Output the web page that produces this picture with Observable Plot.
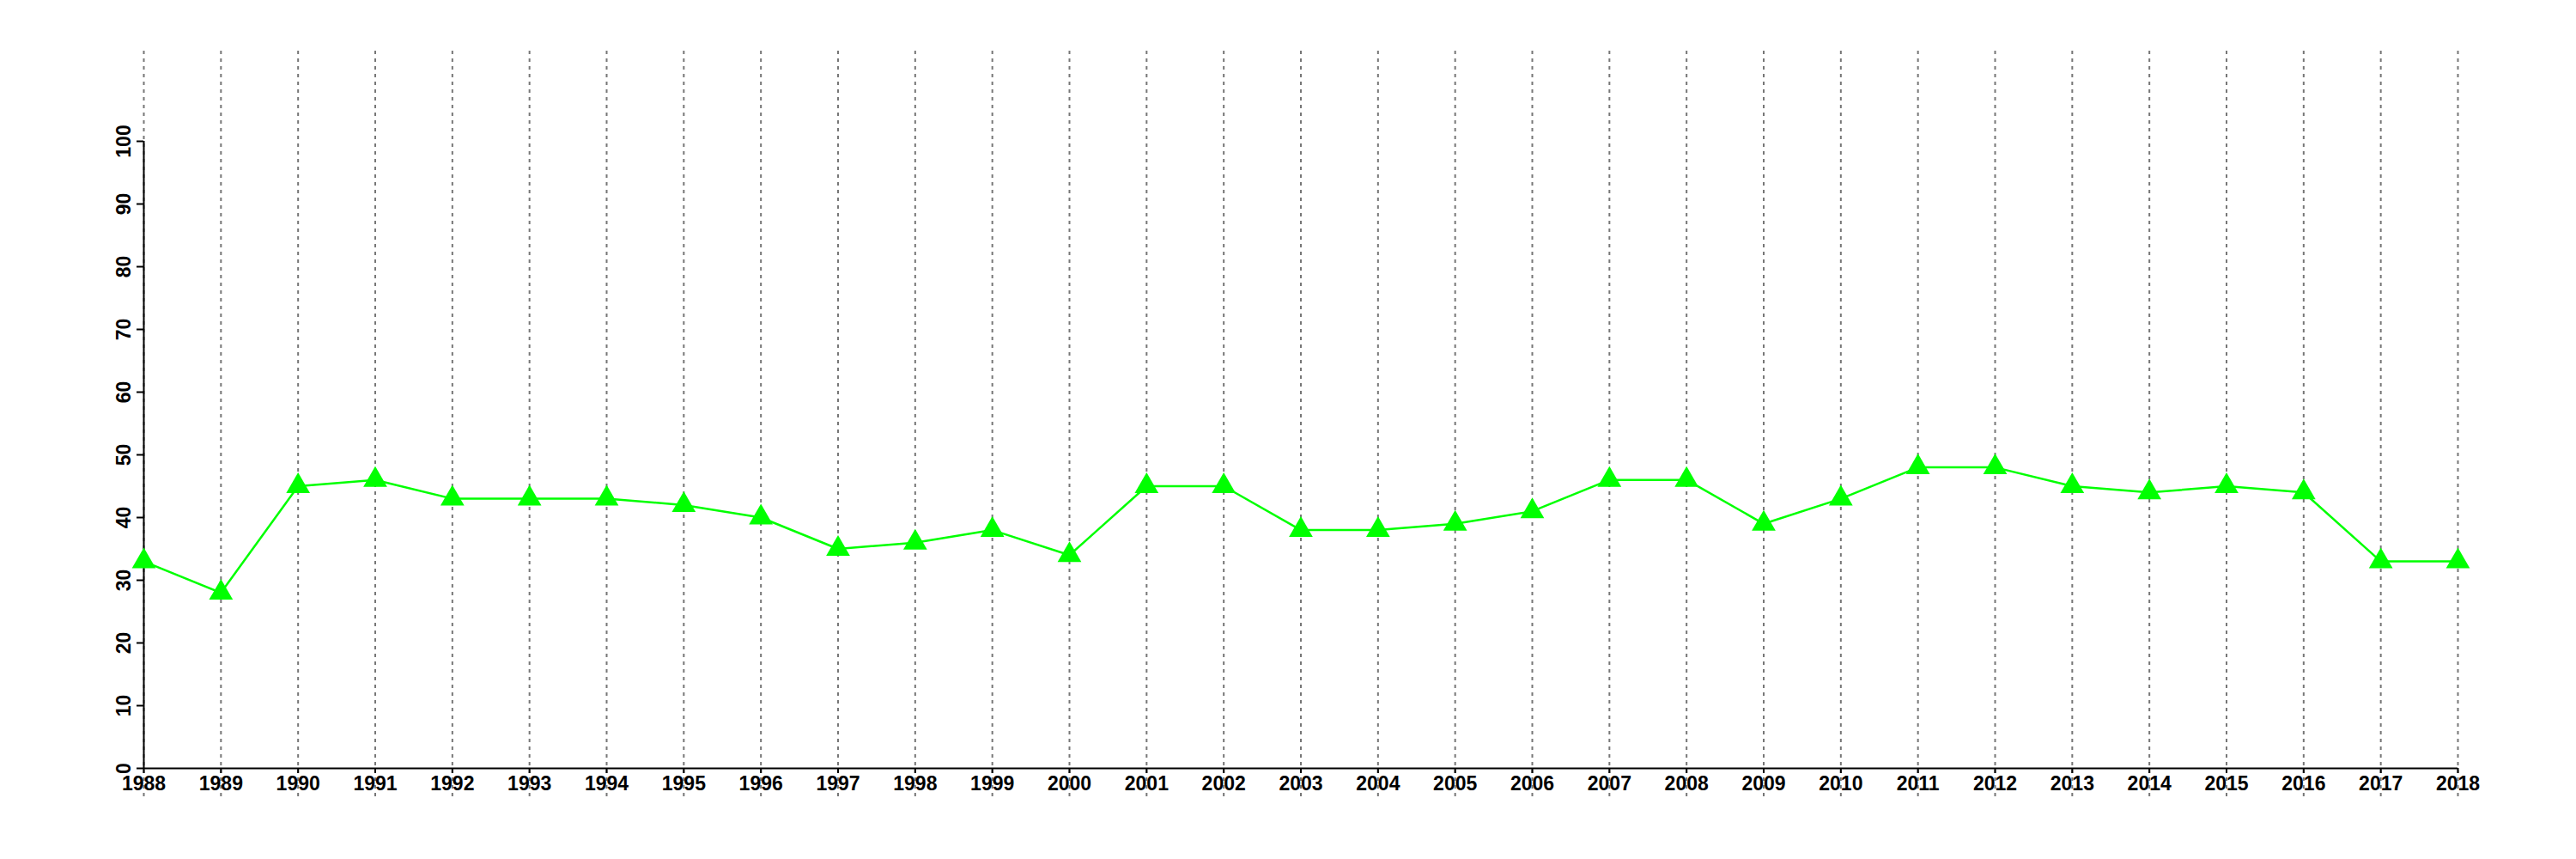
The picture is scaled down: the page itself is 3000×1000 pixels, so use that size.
<!DOCTYPE html>
<html>
<head>
<meta charset="utf-8">
<script src="https://cdn.jsdelivr.net/npm/d3@7"></script>
<script src="https://cdn.jsdelivr.net/npm/@observablehq/plot@0.6"></script>
<style>
  html, body { margin: 0; padding: 0; background: #fff; }
</style>
</head>
<body>
<div id="chart"></div>
<script>
const years = [1988, 1989, 1990, 1991, 1992, 1993, 1994, 1995, 1996, 1997, 1998, 1999, 2000, 2001, 2002, 2003, 2004, 2005, 2006, 2007, 2008, 2009, 2010, 2011, 2012, 2013, 2014, 2015, 2016, 2017, 2018];
const values = [33, 28, 45, 46, 43, 43, 43, 42, 40, 35, 36, 38, 34, 45, 45, 38, 38, 39, 41, 46, 46, 39, 43, 48, 48, 45, 44, 45, 44, 33, 33];
const yTicks = [0, 10, 20, 30, 40, 50, 60, 70, 80, 90, 100];

const data = years.map((year, i) => ({year, value: values[i]}));

const chart = Plot.plot({
  width: 3000,
  height: 1000,
  marginLeft: 167,
  marginRight: 138,
  marginTop: 164,
  marginBottom: 106,
  style: {
    fontFamily: "'Liberation Sans', Arial, Helvetica, sans-serif",
    fontSize: "23px",
    fontWeight: "bold",
    background: "#fff",
    color: "#000"
  },
  x: {type: "linear", domain: [years[0], years[years.length - 1]]},
  y: {domain: [yTicks[0], yTicks[yTicks.length - 1]]},
  marks: [
    Plot.ruleX(years, {stroke: "#777", strokeWidth: 2, strokeDasharray: "4,5", insetTop: -105, insetBottom: -33}),
    Plot.axisX({ticks: years, tickFormat: d => String(d), tickSize: 6, tickPadding: 3, label: null, strokeWidth: 2, fill: "#000"}),
    Plot.axisY({ticks: yTicks, tickSize: 8, tickPadding: 8, tickRotate: -90, label: null, strokeWidth: 2, fill: "#000"}),
    Plot.ruleY([yTicks[0]], {stroke: "#000", strokeWidth: 2}),
    Plot.ruleX([years[0]], {stroke: "#000", strokeWidth: 2}),
    Plot.line(data, {x: "year", y: "value", stroke: "#00ff00", strokeWidth: 2.5}),
    Plot.dot(data, {x: "year", y: "value", symbol: "triangle", r: 10.3, fill: "#00ff00", stroke: "none"})
  ]
});
document.getElementById("chart").appendChild(chart);
</script>
</body>
</html>
